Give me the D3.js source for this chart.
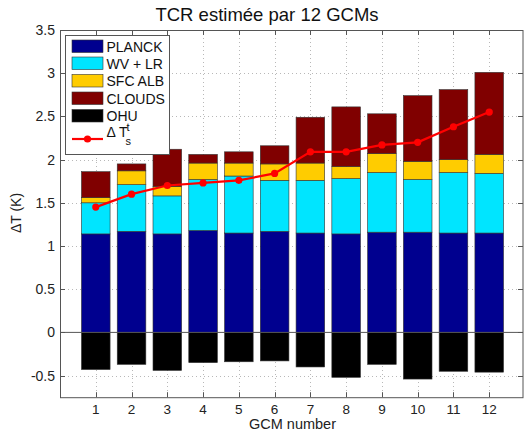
<!DOCTYPE html>
<html>
<head>
<meta charset="utf-8">
<script src="https://cdn.jsdelivr.net/npm/d3@7"></script>
<style>
  body { margin: 0; background: #fff; }
  svg { display: block; }
</style>
</head>
<body>
<div id="chart"></div>
<script>
// 1. Data
const gcms = [1, 2, 3, 4, 5, 6, 7, 8, 9, 10, 11, 12];
const planck = [1.14, 1.17, 1.14, 1.18, 1.15, 1.17, 1.15, 1.14, 1.16, 1.16, 1.15, 1.15];
const wvlr   = [0.36, 0.54, 0.44, 0.59, 0.66, 0.59, 0.61, 0.64, 0.69, 0.61, 0.70, 0.69];
const sfcAlb = [0.06, 0.16, 0.11, 0.19, 0.15, 0.19, 0.20, 0.14, 0.22, 0.21, 0.15, 0.22];
const clouds = [0.30, 0.08, 0.43, 0.10, 0.13, 0.21, 0.53, 0.69, 0.46, 0.76, 0.81, 0.95];
const ohu    = [-0.43, -0.37, -0.44, -0.35, -0.34, -0.33, -0.40, -0.52, -0.37, -0.54, -0.45, -0.46];
const dTs    = [1.45, 1.60, 1.70, 1.73, 1.76, 1.84, 2.09, 2.09, 2.17, 2.20, 2.38, 2.55];

const yTicks = [-0.5, 0, 0.5, 1, 1.5, 2, 2.5, 3, 3.5];
const yTickLabels = ["-0.5", "0", "0.5", "1", "1.5", "2", "2.5", "3", "3.5"];
const seriesNames = ["PLANCK", "WV + LR", "SFC ALB", "CLOUDS", "OHU"];
const seriesColors = ["#00008f", "#00e5ff", "#ffcc00", "#800000", "#000000"];

// 2. Dimensions
const dimensions = {
    width: 524,
    height: 432,
    left: 60,
    top: 30,
    right: 525,   // position of x = 13 (frame is cut by the window)
    bottom: 397.2,
}
const frameRight = 523;

const svg = d3.select("#chart")
    .append("svg")
        .attr("width", dimensions.width)
        .attr("height", dimensions.height)
        .style("font-family", "'Liberation Sans', Arial, sans-serif")

// 3. Scales
const xScale = d3.scaleLinear()
    .domain([0, 13])
    .range([dimensions.left, dimensions.right]);

const yScale = d3.scaleLinear()
    .domain([-0.75, 3.5])
    .range([dimensions.bottom, dimensions.top]);

const barWidth = (xScale(1) - xScale(0)) * 0.8;

// 4. Grid
const grid = svg.append("g")
    .attr("stroke", "#b8b8b8")
    .attr("stroke-width", 1)
    .attr("stroke-dasharray", "1,3");

grid.selectAll(".gy")
    .data(yTicks.filter(d => d !== 0))
    .join("line")
        .attr("x1", dimensions.left)
        .attr("x2", frameRight)
        .attr("y1", d => Math.round(yScale(d)) + 0.5)
        .attr("y2", d => Math.round(yScale(d)) + 0.5);

grid.selectAll(".gx")
    .data(gcms)
    .join("line")
        .attr("x1", d => Math.round(xScale(d)) + 0.5)
        .attr("x2", d => Math.round(xScale(d)) + 0.5)
        .attr("y1", dimensions.top)
        .attr("y2", dimensions.bottom);

// 5. Stacked bars
const posSeries = [planck, wvlr, sfcAlb, clouds];
const stacks = gcms.map((g, i) => {
    let base = 0;
    const segs = posSeries.map((s, k) => {
        const seg = {g, k, y0: base, y1: base + s[i]};
        base += s[i];
        return seg;
    });
    segs.push({g, k: 4, y0: ohu[i], y1: 0});
    return segs;
}).flat();

svg.append("g")
    .selectAll("rect")
    .data(stacks)
    .join("rect")
        .attr("x", d => xScale(d.g) - barWidth / 2)
        .attr("width", barWidth)
        .attr("y", d => yScale(d.y1))
        .attr("height", d => yScale(d.y0) - yScale(d.y1))
        .attr("fill", d => seriesColors[d.k])
        .attr("stroke", "#333")
        .attr("stroke-width", 0.6);

// zero baseline
svg.append("line")
    .attr("x1", dimensions.left)
    .attr("x2", frameRight)
    .attr("y1", yScale(0))
    .attr("y2", yScale(0))
    .attr("stroke", "#555")
    .attr("stroke-width", 1);

// 6. Delta Ts line
const line = d3.line()
    .x((d, i) => xScale(gcms[i]))
    .y(d => yScale(d));

svg.append("path")
    .datum(dTs)
    .attr("d", line)
    .attr("fill", "none")
    .attr("stroke", "#ff0000")
    .attr("stroke-width", 2.2);

svg.append("g")
    .selectAll("circle")
    .data(dTs)
    .join("circle")
        .attr("cx", (d, i) => xScale(gcms[i]))
        .attr("cy", d => yScale(d))
        .attr("r", 3.6)
        .attr("fill", "#ff0000");

// 7. Frame and ticks
const frame = svg.append("g")
    .attr("stroke", "#555")
    .attr("stroke-width", 1)
    .attr("fill", "none");

frame.append("rect")
    .attr("x", dimensions.left + 0.5)
    .attr("y", dimensions.top + 0.5)
    .attr("width", frameRight - dimensions.left - 0.5)
    .attr("height", dimensions.bottom - dimensions.top);

const tickLen = 5;
gcms.forEach(g => {
    const x = Math.round(xScale(g)) + 0.5;
    frame.append("line").attr("x1", x).attr("x2", x)
        .attr("y1", dimensions.bottom).attr("y2", dimensions.bottom - tickLen);
    frame.append("line").attr("x1", x).attr("x2", x)
        .attr("y1", dimensions.top).attr("y2", dimensions.top + tickLen);
});
yTicks.forEach(v => {
    const y = Math.round(yScale(v)) + 0.5;
    frame.append("line").attr("x1", dimensions.left).attr("x2", dimensions.left + tickLen)
        .attr("y1", y).attr("y2", y);
    frame.append("line").attr("x1", frameRight).attr("x2", frameRight - tickLen)
        .attr("y1", y).attr("y2", y);
});

// tick labels
svg.append("g")
    .selectAll("text")
    .data(yTicks)
    .join("text")
        .attr("x", dimensions.left - 5)
        .attr("y", d => yScale(d) + 5)
        .attr("text-anchor", "end")
        .attr("font-size", 14)
        .attr("fill", "#222")
        .text((d, i) => yTickLabels[i]);

svg.append("g")
    .selectAll("text")
    .data(gcms)
    .join("text")
        .attr("x", d => xScale(d))
        .attr("y", 414)
        .attr("text-anchor", "middle")
        .attr("font-size", 13.5)
        .attr("fill", "#222")
        .text(d => d);

// 8. Titles
svg.append("text")
    .attr("x", 267)
    .attr("y", 20.5)
    .attr("text-anchor", "middle")
    .attr("font-size", 18.5)
    .attr("fill", "#111")
    .text("TCR estimée par 12 GCMs");

svg.append("text")
    .attr("x", 292.5)
    .attr("y", 429.3)
    .attr("text-anchor", "middle")
    .attr("font-size", 14.5)
    .attr("fill", "#222")
    .text("GCM number");

svg.append("text")
    .attr("transform", "translate(21,213) rotate(-90)")
    .attr("text-anchor", "middle")
    .attr("font-size", 14)
    .attr("fill", "#222")
    .text("ΔT (K)");

// 9. Legend
const legend = svg.append("g");
legend.append("rect")
    .attr("x", 65.5)
    .attr("y", 35.5)
    .attr("width", 104)
    .attr("height", 119)
    .attr("fill", "#fff")
    .attr("stroke", "#555");

const rowY = [46, 63, 80.5, 98, 115.5];
legend.selectAll(".patch")
    .data(seriesNames)
    .join("rect")
        .attr("x", 72)
        .attr("y", (d, i) => rowY[i] - 6)
        .attr("width", 31)
        .attr("height", 12.5)
        .attr("fill", (d, i) => seriesColors[i])
        .attr("stroke", "#333")
        .attr("stroke-width", 0.6);

legend.selectAll(".lab")
    .data(seriesNames)
    .join("text")
        .attr("x", 106.5)
        .attr("y", (d, i) => rowY[i] + 5.5)
        .attr("font-size", 14)
        .attr("fill", "#111")
        .text(d => d);

legend.append("line")
    .attr("x1", 72).attr("x2", 103)
    .attr("y1", 139).attr("y2", 139)
    .attr("stroke", "#ff0000")
    .attr("stroke-width", 2.2);
legend.append("circle")
    .attr("cx", 87.5).attr("cy", 139).attr("r", 3.6)
    .attr("fill", "#ff0000");

const dLabel = legend.append("text")
    .attr("x", 106.5)
    .attr("y", 137)
    .attr("font-size", 14)
    .attr("fill", "#111");
dLabel.append("tspan").text("Δ T");
dLabel.append("tspan").attr("font-size", 11).attr("dx", -1).attr("dy", -6).text("t");
dLabel.append("tspan").attr("font-size", 11).attr("dx", -4).attr("dy", 14).text("s");
</script>
</body>
</html>
